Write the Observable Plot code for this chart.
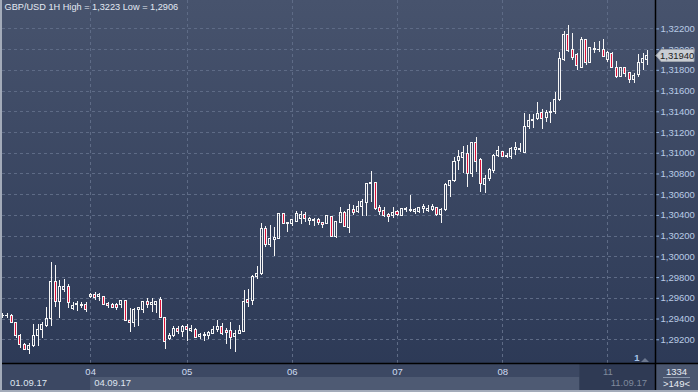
<!DOCTYPE html>
<html><head><meta charset="utf-8">
<script src="https://cdn.jsdelivr.net/npm/d3@7"></script>
<script src="https://cdn.jsdelivr.net/npm/@observablehq/plot@0.6"></script>
<style>
html,body{margin:0;padding:0;background:#2b3855;}
#chart{width:698px;height:392px;}
</style></head><body><div id="chart"></div>
<script>
const opens = [1.29434,1.29432,1.29434,1.29366,1.29241,1.29145,1.29104,1.29140,1.29241,1.29297,
1.29331,1.29403,1.29756,1.29563,1.29683,1.29708,1.29499,1.29531,1.29524,1.29538,
1.29608,1.29634,1.29611,1.29608,1.29547,1.29538,1.29531,1.29531,1.29570,1.29383,
1.29360,1.29492,1.29492,1.29563,1.29531,1.29538,1.29579,1.29408,1.29210,1.29241,
1.29306,1.29273,1.29328,1.29280,1.29297,1.29225,1.29239,1.29241,1.29258,1.29290,
1.29322,1.29280,1.29280,1.29225,1.29258,1.29273,1.29579,1.29570,1.29804,1.29830,
1.30271,1.30110,1.30165,1.30175,1.30416,1.30313,1.30319,1.30335,1.30368,1.30400,
1.30348,1.30346,1.30351,1.30329,1.30316,1.30383,1.30190,1.30325,1.30422,1.30281,
1.30455,1.30431,1.30480,1.30518,1.30699,1.30711,1.30474,1.30438,1.30400,1.30390,
1.30431,1.30390,1.30448,1.30441,1.30431,1.30431,1.30464,1.30441,1.30448,1.30474,
1.30400,1.30448,1.30682,1.30728,1.30924,1.30956,1.30995,1.30795,1.31101,1.30930,
1.30696,1.30747,1.30824,1.30974,1.31010,1.30962,1.30962,1.31034,1.31036,1.31007,
1.31255,1.31307,1.31328,1.31389,1.31336,1.31389,1.31396,1.31509,1.31903,1.32137,
1.31992,1.31944,1.31823,1.32088,1.31871,1.31994,1.31992,1.32001,1.31903,1.31960,
1.31821,1.31734,1.31818,1.31770,1.31702,1.31753,1.31871,1.31903];
const highs = [1.29454,1.29451,1.29444,1.29370,1.29251,1.29161,1.29167,1.29345,1.29345,1.29370,
1.29515,1.29949,1.29917,1.29772,1.29782,1.29731,1.29563,1.29570,1.29557,1.29563,
1.29644,1.29654,1.29647,1.29613,1.29557,1.29547,1.29547,1.29579,1.29579,1.29505,
1.29499,1.29515,1.29570,1.29601,1.29601,1.29570,1.29608,1.29408,1.29261,1.29328,
1.29328,1.29338,1.29345,1.29338,1.29306,1.29264,1.29273,1.29280,1.29328,1.29386,
1.29354,1.29312,1.29370,1.29290,1.29338,1.29676,1.29683,1.29820,1.29907,1.30319,
1.30296,1.30303,1.30287,1.30416,1.30419,1.30329,1.30361,1.30441,1.30441,1.30426,
1.30383,1.30368,1.30368,1.30335,1.30400,1.30390,1.30342,1.30480,1.30441,1.30506,
1.30496,1.30537,1.30551,1.30711,1.30824,1.30721,1.30496,1.30480,1.30422,1.30480,
1.30448,1.30470,1.30480,1.30593,1.30464,1.30480,1.30503,1.30496,1.30506,1.30480,
1.30464,1.30705,1.30737,1.30962,1.31027,1.31068,1.31072,1.31107,1.31149,1.30950,
1.30786,1.30850,1.30985,1.31065,1.31017,1.30995,1.31059,1.31104,1.31091,1.31384,
1.31376,1.31374,1.31490,1.31422,1.31413,1.31490,1.31586,1.31975,1.32172,1.32230,
1.32158,1.31960,1.32117,1.32101,1.32024,1.32069,1.32079,1.32096,1.31982,1.31968,
1.31883,1.31821,1.31823,1.31782,1.31767,1.31955,1.31960,1.31992];
const lows = [1.29406,1.29403,1.29360,1.29215,1.29119,1.29097,1.29060,1.29129,1.29138,1.29210,
1.29322,1.29331,1.29515,1.29403,1.29654,1.29505,1.29483,1.29476,1.29499,1.29461,
1.29596,1.29579,1.29570,1.29531,1.29505,1.29499,1.29483,1.29499,1.29379,1.29273,
1.29322,1.29328,1.29451,1.29499,1.29461,1.29451,1.29408,1.29106,1.29193,1.29225,
1.29248,1.29225,1.29186,1.29268,1.29210,1.29203,1.29186,1.29203,1.29248,1.29273,
1.29241,1.29152,1.29104,1.29080,1.29248,1.29268,1.29515,1.29531,1.29782,1.29820,
1.30094,1.30094,1.30004,1.30168,1.30313,1.30238,1.30296,1.30329,1.30313,1.30329,
1.30303,1.30296,1.30303,1.30271,1.30310,1.30184,1.30175,1.30319,1.30281,1.30229,
1.30400,1.30416,1.30390,1.30390,1.30528,1.30448,1.30400,1.30383,1.30335,1.30368,
1.30390,1.30390,1.30431,1.30431,1.30409,1.30416,1.30422,1.30431,1.30441,1.30390,
1.30319,1.30441,1.30576,1.30721,1.30834,1.30802,1.30665,1.30766,1.30817,1.30624,
1.30609,1.30728,1.30805,1.30962,1.30956,1.30947,1.30937,1.30976,1.31005,1.30995,
1.31231,1.31239,1.31316,1.31229,1.31294,1.31284,1.31372,1.31502,1.31890,1.31974,
1.31892,1.31794,1.31821,1.31850,1.31863,1.31965,1.31975,1.31924,1.31879,1.31813,
1.31722,1.31731,1.31734,1.31670,1.31670,1.31734,1.31799,1.31847];
const closes = [1.29432,1.29434,1.29364,1.29235,1.29145,1.29104,1.29138,1.29241,1.29299,1.29338,
1.29403,1.29756,1.29563,1.29714,1.29714,1.29553,1.29524,1.29544,1.29538,1.29492,
1.29634,1.29601,1.29628,1.29538,1.29524,1.29509,1.29505,1.29570,1.29383,1.29364,
1.29492,1.29505,1.29563,1.29531,1.29557,1.29563,1.29412,1.29177,1.29241,1.29306,
1.29273,1.29322,1.29290,1.29306,1.29215,1.29248,1.29248,1.29264,1.29297,1.29322,
1.29258,1.29268,1.29215,1.29258,1.29280,1.29563,1.29557,1.29804,1.29837,1.30271,
1.30110,1.30175,1.30180,1.30409,1.30319,1.30325,1.30351,1.30409,1.30400,1.30361,
1.30361,1.30353,1.30329,1.30310,1.30390,1.30194,1.30335,1.30422,1.30293,1.30455,
1.30422,1.30486,1.30528,1.30705,1.30715,1.30464,1.30431,1.30393,1.30383,1.30422,
1.30400,1.30464,1.30464,1.30455,1.30448,1.30470,1.30477,1.30464,1.30480,1.30400,
1.30448,1.30696,1.30728,1.30918,1.30962,1.30998,1.30795,1.31101,1.30914,1.30699,
1.30754,1.30834,1.30978,1.31017,1.30962,1.30978,1.31039,1.31046,1.31043,1.31255,
1.31314,1.31318,1.31381,1.31333,1.31389,1.31396,1.31517,1.31912,1.32137,1.31989,
1.31919,1.31842,1.32088,1.31868,1.32011,1.32006,1.32001,1.31927,1.31963,1.31823,
1.31731,1.31818,1.31767,1.31705,1.31750,1.31873,1.31905,1.31940];

const dayIdx = [20, 42, 66, 90, 114, 138];
const dayLabels = ["04", "05", "06", "07", "08", "11"];
const dateLabels = ["01.09.17", "04.09.17", "11.09.17"];
const yTicks = [1.292,1.294,1.296,1.298,1.300,1.302,1.304,1.306,1.308,1.310,1.312,1.314,1.316,1.318,1.320,1.322];
const title = "GBP/USD 1H High = 1,3223 Low = 1,2906";
const barCount = "1334";
const visibleCount = ">149<";

const candles = opens.map((o, i) => ({i, open: o, high: highs[i], low: lows[i], close: closes[i]}));
const dayMap = new Map(dayIdx.map((d, k) => [d, dayLabels[k]]));
const fmt = d => d.toFixed(5).replace(".", ",");
const HW = 0.23;

const decorBack = (index, scales, values, dim) => {
  const g = d3.create("svg:g");
  const W = dim.width, H = dim.height, R = W - dim.marginRight, B = H - dim.marginBottom;
  const xStart = scales.x(dayIdx[0]);
  const xEnd = scales.x(dayIdx[5]) - 28;
  g.append("rect").attr("x", 0).attr("y", B).attr("width", W).attr("height", H - B).attr("fill", "#3c4863");
  g.append("rect").attr("x", xStart).attr("y", B + 14).attr("width", xEnd - xStart).attr("height", 13).attr("fill", "#4e5a73");
  g.append("rect").attr("x", xEnd).attr("y", B).attr("width", R - xEnd).attr("height", 27).attr("fill", "#2f3a54");
  g.append("rect").attr("x", R).attr("y", B).attr("width", W - R).attr("height", H - B).attr("fill", "#4a566f");
  return g.node();
};

const decorFront = (index, scales, values, dim) => {
  const g = d3.create("svg:g").attr("font-family", "'Liberation Sans', Arial, sans-serif").attr("font-size", 9.5).attr("text-anchor", "start");
  const W = dim.width, H = dim.height, R = W - dim.marginRight, B = H - dim.marginBottom;
  const xStart = scales.x(dayIdx[0]);
  // date row
  g.append("text").attr("x", 10).attr("y", B + 23).attr("text-anchor", "start").attr("fill", "#dfe5ef").text(dateLabels[0]);
  g.append("text").attr("x", xStart + 4).attr("y", B + 23).attr("text-anchor", "start").attr("fill", "#dfe5ef").text(dateLabels[1]);
  g.append("text").attr("x", R - 8).attr("y", B + 23).attr("text-anchor", "end").attr("fill", "#7f899c").text(dateLabels[2]);
  // right bottom cell
  g.append("text").attr("x", (R + W) / 2).attr("y", B + 12).attr("text-anchor", "middle").attr("fill", "#e8ecf3").text(barCount);
  g.append("line").attr("x1", R + 8).attr("x2", W - 8).attr("y1", B + 14.5).attr("y2", B + 14.5).attr("stroke", "#8c98ac");
  g.append("text").attr("x", (R + W) / 2).attr("y", B + 24).attr("text-anchor", "middle").attr("fill", "#e8ecf3").text(visibleCount);
  // small marker
  g.append("text").attr("x", R - 18).attr("y", B - 2).attr("text-anchor", "middle").attr("fill", "#a8c4ea").attr("font-weight", "bold").text("1");
  g.append("path").attr("d", `M${R - 14},${B - 1}L${R - 10},${B - 5}L${R - 6},${B - 1}Z`).attr("fill", "#6c7890");
  // frame lines
  g.append("line").attr("x1", R + 0.5).attr("x2", R + 0.5).attr("y1", 0).attr("y2", H).attr("stroke", "#000").attr("stroke-width", 1.5);
  g.append("line").attr("x1", 0).attr("x2", W).attr("y1", B + 0.5).attr("y2", B + 0.5).attr("stroke", "#000").attr("stroke-width", 1.5);
  g.append("rect").attr("x", 0).attr("y", 0).attr("width", 2).attr("height", H).attr("fill", "#a3abb9");
  g.append("rect").attr("x", 0).attr("y", H - 2).attr("width", W).attr("height", 2).attr("fill", "#a3abb9");
  // current price tag
  const last = closes[closes.length - 1];
  const y = Math.round(scales.y(last)) + 0.5;
  g.append("path").attr("d", `M${R + 1},${y}L${R + 6},${y - 6}L${W - 4},${y - 6}L${W - 4},${y + 6}L${R + 6},${y + 6}Z`)
    .attr("fill", "#c9cdd3").attr("stroke", "#9ea4ad");
  g.append("text").attr("x", R + 5).attr("y", y + 3.5).attr("text-anchor", "start").attr("fill", "#1c1c1c").text(fmt(last));
  return g.node();
};

const chart = Plot.plot({
  width: 698, height: 392,
  marginTop: 0, marginRight: 43, marginBottom: 29, marginLeft: 2,
  style: {background: "linear-gradient(#47536d, #2b3855)", fontFamily: "'Liberation Sans', Arial, sans-serif", fontSize: "9.5px", color: "#b9cbe6"},
  x: {type: "linear", domain: [-0.103, 148.85]},
  y: {domain: [1.28971, 1.32474]},
  marks: [
    decorBack,
    Plot.ruleY(yTicks, {stroke: "#5e6b86", strokeDasharray: "3,3", shapeRendering: "crispEdges"}),
    Plot.ruleX(dayIdx, {stroke: "#5e6b86", strokeDasharray: "3,3", shapeRendering: "crispEdges"}),
    Plot.ruleX(candles, {x: "i", y1: "high", y2: d => Math.max(d.open, d.close), stroke: "#f6f6f6", strokeWidth: 1, shapeRendering: "crispEdges"}),
    Plot.ruleX(candles, {x: "i", y1: d => Math.min(d.open, d.close), y2: "low", stroke: "#f6f6f6", strokeWidth: 1, shapeRendering: "crispEdges"}),
    Plot.rect(candles.filter(d => d.close >= d.open), {x1: d => d.i - HW, x2: d => d.i + HW, y1: "open", y2: "close", fill: "none", stroke: "#f6f6f6", strokeWidth: 1, shapeRendering: "crispEdges"}),
    Plot.rect(candles.filter(d => d.close < d.open), {x1: d => d.i - HW, x2: d => d.i + HW, y1: "open", y2: "close", fill: "#dc1239", stroke: "#f6f6f6", strokeWidth: 1, shapeRendering: "crispEdges"}),
    Plot.axisY(yTicks, {anchor: "right", label: null, tickSize: 3, tickPadding: 2, tickFormat: fmt, stroke: "#8fb0de", fill: "#b9cbe6", fontSize: 9.5}),
    Plot.axisX(dayIdx.slice(0, 5), {anchor: "bottom", label: null, tickSize: 0, tickPadding: 5, tickFormat: d => dayMap.get(d), fill: "#cfdbf0", fontSize: 9.5}),
    Plot.axisX(dayIdx.slice(5), {anchor: "bottom", label: null, tickSize: 0, tickPadding: 5, tickFormat: d => dayMap.get(d), fill: "#7f899c", fontSize: 9.5}),
    Plot.text([title], {text: d => d, frameAnchor: "top-left", dx: 2, dy: 3, lineAnchor: "top", textAnchor: "start", fill: "#e3e9f3", fontSize: 9.2}),
    decorFront
  ]
});
document.getElementById("chart").appendChild(chart);
</script>
</body></html>
